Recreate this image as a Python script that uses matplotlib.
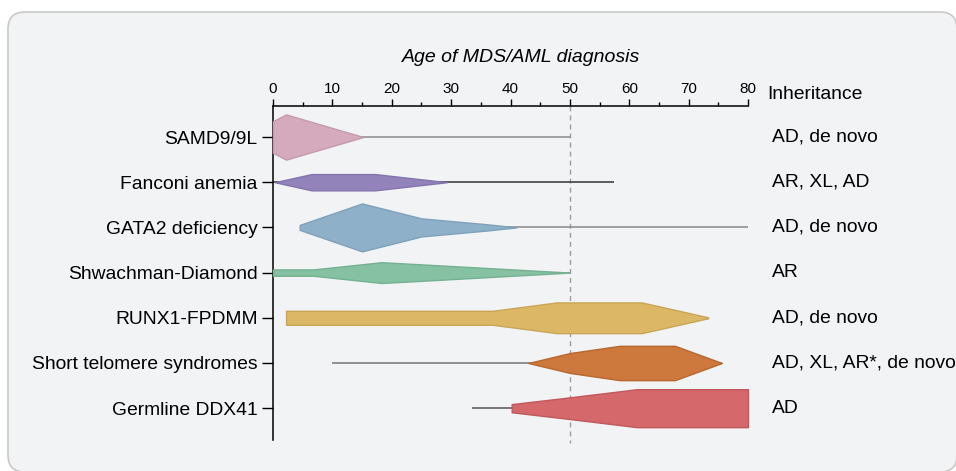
import matplotlib
matplotlib.use("Agg")
import matplotlib.pyplot as plt
from matplotlib.patches import FancyBboxPatch
from matplotlib.transforms import IdentityTransform
import numpy as np

plt.rcParams["font.family"] = ["Liberation Sans", "DejaVu Sans"]

# categories and right-hand annotation
syndromes = ["SAMD9/9L", "Fanconi anemia", "GATA2 deficiency", "Shwachman-Diamond",
             "RUNX1-FPDMM", "Short telomere syndromes", "Germline DDX41"]
inheritance = ["AD, de novo", "AR, XL, AD", "AD, de novo", "AR",
               "AD, de novo", "AD, XL, AR*, de novo", "AD"]

# full age range (thin line) per syndrome
range_lo = [0, 0, 4.5, 0, 2.2, 9.9, 33.5]
range_hi = [50, 57.4, 80, 50, 73.3, 75.6, 80]

# violin profiles: ages and half-widths (in row units)
samd9_age = [0, 2.2, 15.2]
samd9_w = [0.35, 0.50, 0.0]
fanconi_age = [0.3, 6.5, 17.2, 29.3]
fanconi_w = [0.0, 0.18, 0.18, 0.0]
gata2_age = [4.5, 15.0, 25.0, 36.0, 41.0]
gata2_w = [0.055, 0.53, 0.20, 0.07, 0.0]
sds_age = [0, 6.8, 18.3, 25.3, 50.0]
sds_w = [0.07, 0.07, 0.23, 0.18, 0.0]
runx1_age = [2.2, 37.0, 47.8, 62.1, 73.3]
runx1_w = [0.155, 0.155, 0.34, 0.34, 0.01]
telo_age = [43.0, 50.0, 58.4, 67.7, 75.6]
telo_w = [0.0, 0.22, 0.38, 0.38, 0.0]
ddx41_age = [40.2, 50.0, 61.3, 80.0]
ddx41_w = [0.09, 0.24, 0.42, 0.42]

profiles = [(samd9_age, samd9_w), (fanconi_age, fanconi_w), (gata2_age, gata2_w),
            (sds_age, sds_w), (runx1_age, runx1_w), (telo_age, telo_w),
            (ddx41_age, ddx41_w)]

fills = ["#d5aabd", "#9283bb", "#8fb0c9", "#86c1a3", "#dcb866", "#cd783d", "#d4686b"]
edges = ["#c39aad", "#8374ad", "#7ea1bb", "#74b093", "#c9a555", "#b8682f", "#c0585c"]
line_cols = ["#8a8a8a", "#333333", "#888888", "#888888", "#888888", "#777777", "#555555"]

fig = plt.figure(figsize=(9.56, 4.71), dpi=100)

# rounded panel background
bg = FancyBboxPatch((8, -1), 949, 460, boxstyle="round,pad=0,rounding_size=17",
                    transform=IdentityTransform(), facecolor="#f2f3f5",
                    edgecolor="#c9c9c9", linewidth=1.2, zorder=-5)
fig.patches.append(bg)

ax = fig.add_axes([273 / 956, 1 - 440 / 471, 475 / 956, 334 / 471])
ax.set_facecolor("none")
ax.set_zorder(2)

y_top, y_bot = -0.686, 6.704
ax.set_xlim(0, 80)
ax.set_ylim(y_bot, y_top)

for i, (age, w) in enumerate(profiles):
    ax.plot([range_lo[i], range_hi[i]], [i, i], color=line_cols[i], lw=1.1,
            zorder=2, solid_capstyle="butt", clip_on=False)
    age = np.asarray(age)
    w = np.asarray(w)
    ax.fill_between(age, i - w, i + w, facecolor=fills[i], edgecolor=edges[i],
                    linewidth=1.0, zorder=3, clip_on=False)

ax.plot([50, 50], [y_top, 6.78], color="#9c9c9c", lw=1, dashes=(3.5, 3),
        zorder=1, clip_on=False)

for s in ["right", "bottom"]:
    ax.spines[s].set_visible(False)
ax.spines["top"].set_bounds(0, 80)
ax.spines["top"].set_linewidth(1.1)
ax.spines["left"].set_linewidth(1.1)

ax.xaxis.tick_top()
ax.set_xticks(range(0, 81, 10))
ax.set_xticks(range(5, 80, 10), minor=True)
ax.tick_params(axis="x", which="major", length=5, width=1, pad=2, labelsize=11)
ax.tick_params(axis="x", which="minor", length=3, width=1)

ax.set_yticks(range(len(syndromes)))
ax.set_yticklabels(syndromes)
ax.tick_params(axis="y", length=8, width=1, pad=3, labelsize=13.9)

ax.text(41.8, -1.75, "Age of MDS/AML diagnosis", style="italic", fontsize=14,
        ha="center", va="center")
ax.text(83.3, -0.95, "Inheritance", fontsize=13.9, ha="left", va="center")
for i, lab in enumerate(inheritance):
    ax.text(84.0, i, lab, fontsize=13.9, ha="left", va="center")

fig.savefig("out.png", dpi=100)
